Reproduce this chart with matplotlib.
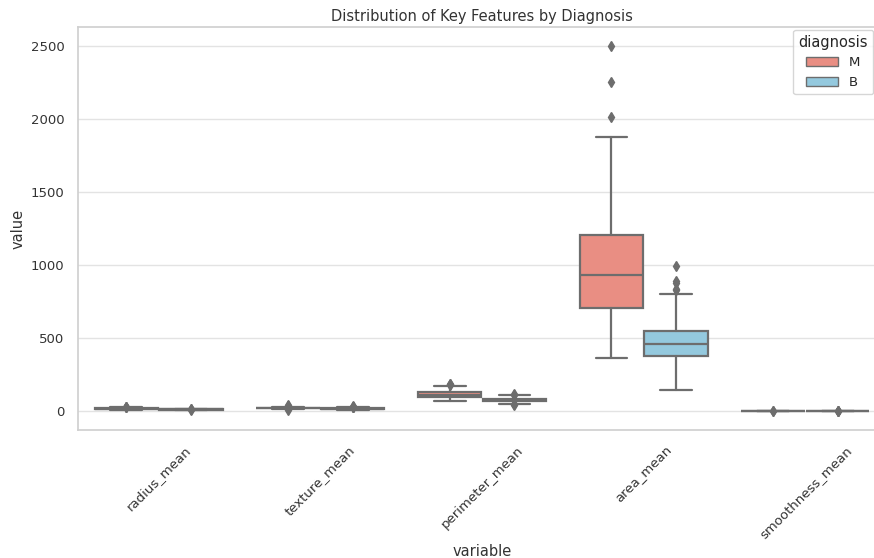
import matplotlib
matplotlib.use("Agg")
import colorsys
import matplotlib.pyplot as plt
import matplotlib.patches as mpatches
from matplotlib.colors import to_rgb
import seaborn as sns

# features on the x axis
features = ["radius_mean", "texture_mean", "perimeter_mean", "area_mean", "smoothness_mean"]
groups = ["M", "B"]

# box statistics for malignant (M)
m_q1 = [15.08, 19.33, 98.75, 705.3, 0.0934]
m_med = [17.33, 21.46, 114.2, 932.0, 0.1022]
m_q3 = [19.59, 23.77, 129.9, 1203.8, 0.1100]
m_lo = [10.95, 13.0, 71.9, 361.6, 0.0737]
m_hi = [25.73, 30.0, 171.5, 1878.0, 0.1371]
m_fliers = [[27.22, 28.11, 27.42], [32.47, 39.28, 33.56, 31.12, 10.38],
            [182.1, 188.5, 186.9], [2010.0, 2250.0, 2501.0], [0.1447, 0.1425]]

# box statistics for benign (B)
b_q1 = [11.08, 15.15, 70.87, 378.2, 0.0849]
b_med = [12.2, 17.39, 78.18, 458.4, 0.0908]
b_q3 = [13.37, 19.76, 86.1, 551.1, 0.0985]
b_lo = [7.73, 9.71, 48.34, 143.5, 0.0660]
b_hi = [16.84, 26.29, 108.4, 804.6, 0.1183]
b_fliers = [[6.98, 17.85, 17.08], [27.15, 33.81, 29.97, 29.29, 28.77],
            [43.79, 47.92, 114.6, 111.2], [992.1, 888.3, 880.2, 838.1, 826.8],
            [0.0526, 0.1634, 0.1291, 0.1398]]


def desat(name, prop=0.75):
    # same as seaborn's boxplot saturation
    h, l, s = colorsys.rgb_to_hls(*to_rgb(name))
    return colorsys.hls_to_rgb(h, l, s * prop)


colors = {"M": desat("salmon"), "B": desat("skyblue")}
line_gray = "#6d6d6d"

sns.set_theme(style="whitegrid")

fig = plt.figure(figsize=(8.74, 5.58), dpi=100)
ax = fig.add_axes([0.089, 0.229, 0.925, 0.723])


def make_stats(q1, med, q3, lo, hi, fl):
    return [dict(q1=a, med=b, q3=c, whislo=d, whishi=e, fliers=f)
            for a, b, c, d, e, f in zip(q1, med, q3, lo, hi, fl)]


stats = {
    "M": make_stats(m_q1, m_med, m_q3, m_lo, m_hi, m_fliers),
    "B": make_stats(b_q1, b_med, b_q3, b_lo, b_hi, b_fliers),
}
offsets = {"M": -0.2, "B": 0.2}

for g in groups:
    pos = [i + offsets[g] for i in range(len(features))]
    ax.bxp(stats[g], positions=pos, widths=0.392, patch_artist=True,
           showfliers=True, manage_ticks=False,
           boxprops=dict(facecolor=colors[g], edgecolor=line_gray, linewidth=1.6),
           medianprops=dict(color=line_gray, linewidth=1.6),
           whiskerprops=dict(color=line_gray, linewidth=1.6),
           capprops=dict(color=line_gray, linewidth=1.6),
           flierprops=dict(marker="d", markerfacecolor=line_gray,
                           markeredgecolor=line_gray, markersize=5))

ax.set_xlim(-0.5, len(features) - 0.5)
ax.set_ylim(-130, 2630)
ax.set_xticks(range(len(features)))
ax.set_xticklabels(features, rotation=45, fontsize=9.5, color="#333333")
ax.set_yticks([0, 500, 1000, 1500, 2000, 2500])
ax.tick_params(axis="y", labelsize=9.5, colors="#333333")
ax.xaxis.grid(False)
ax.yaxis.grid(True, color="#e3e3e3", linewidth=1)
for s in ax.spines.values():
    s.set_color("#d0d0d0")

ax.set_xlabel("variable", fontsize=10.5, color="#333333", labelpad=2)
ax.set_ylabel("value", fontsize=10.5, color="#333333")
ax.set_title("Distribution of Key Features by Diagnosis", fontsize=10.5,
             color="#333333", pad=4)

# legend kept just inside the right edge of the picture
handles = [mpatches.Patch(facecolor=colors[g], edgecolor=line_gray, label=g) for g in groups]
ax.legend(handles=handles, title="diagnosis", loc="upper right",
          bbox_to_anchor=(0.984, 0.993), fontsize=9.5,
          title_fontsize=10.5, borderaxespad=0.0, handlelength=2.4)

fig.savefig("out.png", dpi=100)
